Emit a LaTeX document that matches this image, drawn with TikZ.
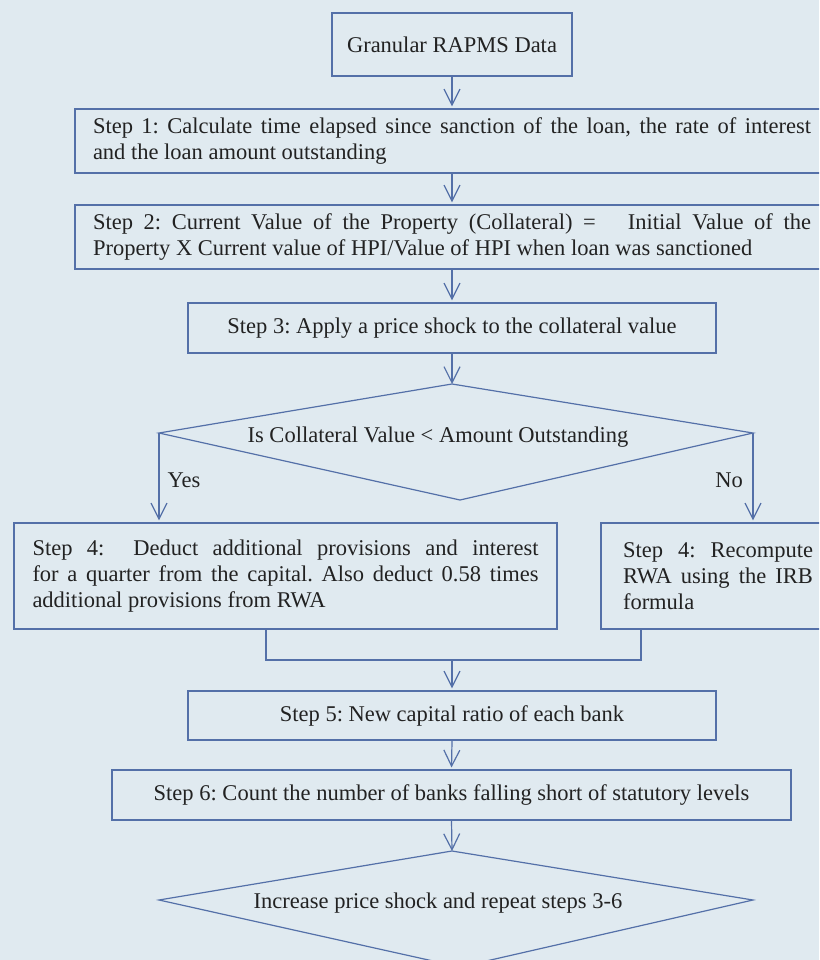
\documentclass[tikz,border=0pt]{standalone}
\usepackage{fontspec}
\setmainfont{Liberation Serif}
\usetikzlibrary{arrows.meta}
\definecolor{bgc}{RGB}{224,234,240}
\definecolor{lnc}{RGB}{84,112,168}
\definecolor{txc}{RGB}{34,34,34}
\frenchspacing
\begin{document}
\begin{tikzpicture}[x=1pt,y=-1pt,
  font=\fontsize{22.5}{26}\selectfont\frenchspacing, text=txc,
  box/.style={draw=lnc, line width=1.2pt, inner sep=0pt, align=center},
  jbox/.style={box, align=justify},
  conn/.style={draw=lnc, line width=1.2pt},
  arr/.style={conn, shorten >=2pt, -{Straight Barb[length=16pt,width=16pt,line width=1.2pt]}},
  lbl/.style={anchor=base, inner sep=0pt}
]
\useasboundingbox (0,0) rectangle (819,960);
\fill[bgc] (0,0) rectangle (819,960);
\begin{scope}
\clip (0,0) rectangle (819,960);

\node[box, minimum width=240pt, minimum height=63pt] (g) at (452,44.5) {Granular RAPMS Data};

\node[jbox, minimum width=754pt, minimum height=64pt, text width=718pt] (s1) at (452,141)
  {Step 1: Calculate time elapsed since sanction of the loan, the rate of interest\linebreak and the loan amount outstanding};

\node[jbox, minimum width=754pt, minimum height=64pt, text width=718pt] (s2) at (452,237)
  {Step 2: Current Value of the Property (Collateral) =~~~Initial Value of the\linebreak Property X Current value of HPI/Value of HPI when loan was sanctioned};

\node[box, minimum width=528pt, minimum height=50pt] (s3) at (452,328)
  {Step 3: Apply a price shock to the collateral value};

\coordinate (d1t) at (452,384);
\coordinate (d1l) at (159,433);
\coordinate (d1r) at (753,433);
\coordinate (d1b) at (460,500);
\draw[conn] (d1t) -- (d1r) -- (d1b) -- (d1l) -- cycle;
\node[lbl] (d1) at (438,442) {Is Collateral Value < Amount Outstanding};

\node[lbl] (yes) at (184,487) {Yes};
\node[lbl] (no) at (729,487) {No};

\node[jbox, minimum width=543pt, minimum height=106pt, text width=506pt] (s4a) at (285.5,576)
  {Step 4:~ Deduct additional provisions and interest\linebreak for a quarter from the capital. Also deduct 0.58 times\linebreak additional provisions from RWA};

\node[jbox, minimum width=234pt, minimum height=106pt, text width=190pt] (s4b) at (718,576)
  {Step 4: Recompute\linebreak RWA using the IRB\linebreak formula};

\coordinate (m1) at (266,660);
\coordinate (m2) at (641,660);

\node[box, minimum width=528pt, minimum height=49pt] (s5) at (452,715.5)
  {Step 5: New capital ratio of each bank};

\node[box, minimum width=679pt, minimum height=50pt] (s6) at (451.5,795)
  {Step 6: Count the number of banks falling short of statutory levels};

\coordinate (d2t) at (452,851);
\coordinate (d2l) at (159,900);
\coordinate (d2r) at (753,900);
\coordinate (d2b) at (460,967);
\draw[conn] (d2t) -- (d2r) -- (d2b) -- (d2l) -- cycle;
\node[lbl] (d2) at (438,908) {Increase price shock and repeat steps 3-6};

\draw[arr] (g.south) -- (s1.north);
\draw[arr] (s1.south) -- (s2.north);
\draw[arr] (s2.south) -- (s3.north);
\draw[arr, shorten >=0pt] (s3.south) -- (d1t);
\draw[arr] (d1l) -- (d1l |- s4a.north);
\draw[arr] (d1r) -- (d1r |- s4b.north);
\draw[conn] (s4a.south -| m1) -- (m1) -- (m2) -- (s4b.south -| m2);
\draw[arr] (m1 -| s5.north) -- (s5.north);
\draw[arr] (s5.south) -- (s6.north);
\draw[arr, shorten >=0pt] (s6.south) -- (d2t);
\end{scope}
\end{tikzpicture}
\end{document}
